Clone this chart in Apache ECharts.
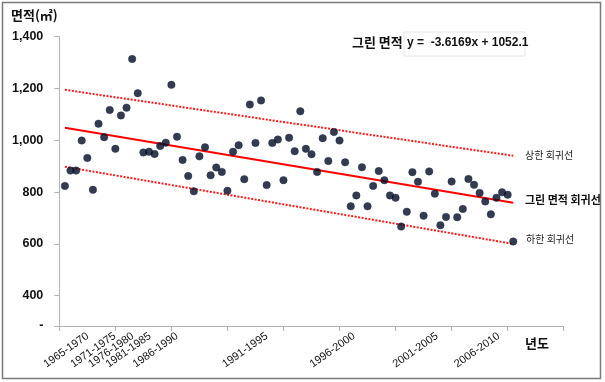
<!DOCTYPE html>
<html>
<head>
<meta charset="utf-8">
<script src="https://cdn.jsdelivr.net/npm/echarts@6/dist/echarts.min.js"></script>
<style>
  html, body { margin: 0; padding: 0; background: #fff; }
  #chart { width: 605px; height: 382px; }
</style>
</head>
<body>
<div id="chart"></div>
<script>
// Green-area size per observation (index 1..81), in ㎡
const areaValues = [
  824, 883, 883, 999, 932, 809, 1064, 1012, 1117, 967,
  1096, 1126, 1314, 1182, 953, 956, 947, 978, 991, 1214,
  1014, 924, 862, 803, 938, 973, 865, 895, 878, 805,
  956, 981, 850, 1138, 990, 1154, 827, 990, 1003, 846,
  1010, 958, 1112, 967, 946, 878, 1008, 920, 1032, 999,
  915, 745, 787, 896, 745, 824, 881, 846, 787, 778,
  667, 724, 877, 840, 709, 880, 794, 672, 704, 841,
  703, 735, 851, 828, 797, 764, 714, 778, 799, 790,
  609
];

// Period labels along the x axis and the observation index each sits under
const periodLabels = ['1965-1970', '1971-1975', '1976-1980', '1981-1985', '1986-1990',
                      '1991-1995', '1996-2000', '2001-2005', '2006-2010'];
const periodAt = [5.1, 9.9, 13.1, 16.2, 21.0, 37.0, 52.6, 67.4, 78.4];

// Regression line y = -3.6169x + 1052.1
const slope = -3.6169;
const intercept = 1052.1;
const lineX = [1, 81];

// Upper / lower bound lines (start, end)
const upperBound = [1195, 940];
const lowerBound = [898, 600];

// y axis ticks
const yMin = 283;
const yTicks = [400, 600, 800, 1000, 1200, 1400];
const yTickLabels = ['400', '600', '800', '1,000', '1,200', '1,400'];

const FONT = '"Liberation Sans", Arial, "Noto Sans CJK KR", sans-serif';
const KFONT = '"Noto Sans CJK KR", "Liberation Sans", sans-serif';

const scatterData = areaValues.map((v, i) => [i + 1, v]);
const regData = lineX.map(x => [x, slope * x + intercept]);
const upperData = lineX.map((x, i) => [x, upperBound[i]]);
const lowerData = lineX.map((x, i) => [x, lowerBound[i]]);

const chart = echarts.init(document.getElementById('chart'), null, { renderer: 'canvas' });

chart.setOption({
  animation: false,
  backgroundColor: '#fff',
  grid: { left: 59.3, right: 41.3, top: 36.7, bottom: 56, containLabel: false },
  xAxis: {
    type: 'value',
    min: 0, max: 90, interval: 10,
    axisLine: { show: true, lineStyle: { color: '#b3b3b3', width: 1 } },
    axisTick: { show: true, length: 5, lineStyle: { color: '#b3b3b3' },
                customValues: [0, 10, 20, 30, 40, 50, 60, 70, 80, 90] },
    splitLine: { show: false },
    axisLabel: {
      customValues: periodAt,
      formatter: v => periodLabels[periodAt.indexOf(v)] || '',
      rotate: 35,
      margin: 9,
      fontSize: 11,
      color: '#111',
      fontFamily: FONT
    }
  },
  yAxis: {
    type: 'value',
    min: yMin, max: 1400,
    axisLine: { show: true, lineStyle: { color: '#b3b3b3', width: 1 } },
    axisTick: { show: true, length: 5, lineStyle: { color: '#b3b3b3' },
                customValues: [yMin].concat(yTicks) },
    splitLine: { show: false },
    axisLabel: {
      customValues: [yMin].concat(yTicks),
      formatter: v => v === yMin ? '-' : yTickLabels[yTicks.indexOf(v)],
      fontSize: 12.5,
      fontWeight: 'bold',
      color: '#111',
      margin: 16,
      fontFamily: FONT
    }
  },
  series: [
    {
      type: 'line',
      data: upperData,
      symbol: 'none',
      lineStyle: { color: '#ff1a1a', width: 2, type: [2, 1.5] },
      z: 2
    },
    {
      type: 'line',
      data: lowerData,
      symbol: 'none',
      lineStyle: { color: '#ff1a1a', width: 2, type: [2, 1.5] },
      z: 2
    },
    {
      type: 'line',
      data: regData,
      symbol: 'none',
      lineStyle: { color: '#ff0000', width: 2 },
      z: 3
    },
    {
      type: 'scatter',
      data: scatterData,
      symbol: 'circle',
      symbolSize: 7.5,
      itemStyle: { color: '#030a22', borderColor: '#1c2a50', borderWidth: 0.5 },
      z: 4
    }
  ],
  graphic: [
    {
      type: 'rect', silent: true,
      shape: { x: 2.5, y: 2.5, width: 598, height: 376 },
      style: { fill: 'none', stroke: '#7a7a7a', lineWidth: 1.5 }
    },
    {
      type: 'text', left: 11, top: 9,
      style: { text: '면적(㎡)', font: 'bold 13px ' + KFONT, fill: '#111' }
    },
    {
      type: 'text', left: 352, top: 36,
      style: { text: '그린 면적', font: 'bold 13px ' + KFONT, fill: '#111' }
    },
    {
      type: 'rect', silent: true,
      shape: { x: 404, y: 32, width: 121, height: 24 },
      style: { fill: '#fff', stroke: '#e4e4e4', lineWidth: 1 }
    },
    {
      type: 'text', left: 407, top: 37,
      style: { text: 'y =  -3.6169x + 1052.1', font: 'bold 12px ' + FONT, fill: '#111' }
    },
    {
      type: 'text', left: 525, top: 150,
      style: { text: '상한 회귀선', font: '10px ' + KFONT, fill: '#222' }
    },
    {
      type: 'text', left: 525, top: 194,
      style: { text: '그린 면적 회귀선', font: 'bold 11px ' + KFONT, fill: '#111' }
    },
    {
      type: 'text', left: 526, top: 234,
      style: { text: '하한 회귀선', font: '10px ' + KFONT, fill: '#222' }
    },
    {
      type: 'text', left: 525, top: 337,
      style: { text: '년도', font: 'bold 13px ' + KFONT, fill: '#111' }
    }
  ]
});
</script>
</body>
</html>
